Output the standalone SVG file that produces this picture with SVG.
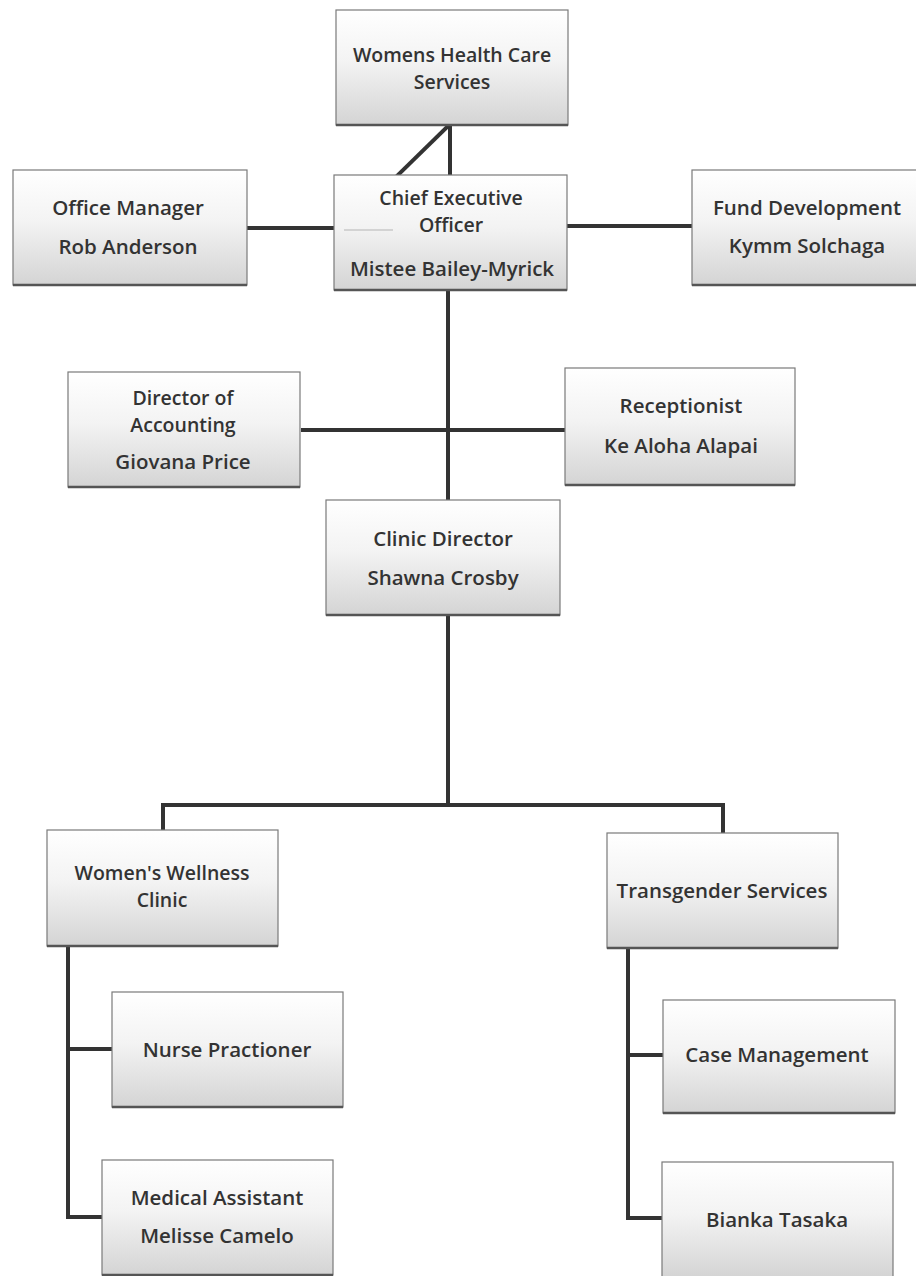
<svg xmlns="http://www.w3.org/2000/svg" width="916" height="1276" viewBox="0 0 916 1276">
<defs>
<linearGradient id="g" x1="0" y1="0" x2="0" y2="1">
<stop offset="0" stop-color="#ffffff"/>
<stop offset="0.45" stop-color="#f3f3f3"/>
<stop offset="1" stop-color="#d4d4d4"/>
</linearGradient>
</defs>
<style>
.box{fill:url(#g);stroke:#7a7a7a;stroke-width:1.2}
.sh{stroke:#555;stroke-width:2.5;fill:none}
.t{font-family:"Open Sans","Liberation Sans",sans-serif;font-size:20.5px;font-weight:600;fill:#333333;text-anchor:middle}
.t2{font-size:19.5px}
.c{stroke:#333;stroke-width:4;fill:none;stroke-linecap:square}
</style>
<rect width="916" height="1276" fill="#ffffff"/>
<g id="connectors">
<line class="c" x1="450" y1="126" x2="450" y2="175"/>
<line class="c" x1="447" y1="127" x2="398" y2="175"/>
<line class="c" x1="249" y1="228" x2="334" y2="228"/>
<line class="c" x1="567" y1="226" x2="691" y2="226"/>
<line class="c" x1="448" y1="290" x2="448" y2="500"/>
<line class="c" x1="303" y1="430" x2="564" y2="430"/>
<line class="c" x1="448" y1="615" x2="448" y2="805"/>
<line class="c" x1="163" y1="805" x2="723" y2="805"/>
<line class="c" x1="163" y1="805" x2="163" y2="830"/>
<line class="c" x1="723" y1="805" x2="723" y2="833"/>
<line class="c" x1="68" y1="946" x2="68" y2="1217"/>
<line class="c" x1="68" y1="1049" x2="111" y2="1049"/>
<line class="c" x1="68" y1="1217" x2="101" y2="1217"/>
<line class="c" x1="628" y1="948" x2="628" y2="1218"/>
<line class="c" x1="628" y1="1055" x2="662" y2="1055"/>
<line class="c" x1="628" y1="1218" x2="661" y2="1218"/>
</g>
<g id="n-whcs">
<rect class="box" x="336" y="10" width="232" height="115"/>
<line class="sh" x1="336" y1="125" x2="568" y2="125"/>
<text class="t t2" x="452" y="62">Womens Health Care</text>
<text class="t t2" x="452" y="89">Services</text>
</g>
<g id="n-ceo">
<rect class="box" x="334" y="175" width="233" height="115"/>
<line class="sh" x1="334" y1="290" x2="567" y2="290"/>
<line x1="344" y1="230" x2="393" y2="230" stroke="#c8c8c8" stroke-width="1.5"/>
<text class="t t2" x="451" y="205">Chief Executive</text>
<text class="t t2" x="451" y="232">Officer</text>
<text class="t" x="452" y="276">Mistee Bailey-Myrick</text>
</g>
<g id="n-office">
<rect class="box" x="13" y="170" width="234" height="115"/>
<line class="sh" x1="13" y1="285" x2="247" y2="285"/>
<text class="t" x="128" y="215">Office Manager</text>
<text class="t" x="128" y="254">Rob Anderson</text>
</g>
<g id="n-fund">
<rect class="box" x="692" y="170" width="230" height="115"/>
<line class="sh" x1="692" y1="285" x2="916" y2="285"/>
<text class="t" x="807" y="215">Fund Development</text>
<text class="t" x="807" y="253">Kymm Solchaga</text>
</g>
<g id="n-acct">
<rect class="box" x="68" y="372" width="232" height="115"/>
<line class="sh" x1="68" y1="487" x2="300" y2="487"/>
<text class="t t2" x="183" y="405">Director of</text>
<text class="t t2" x="183" y="432">Accounting</text>
<text class="t" x="183" y="469">Giovana Price</text>
</g>
<g id="n-recep">
<rect class="box" x="565" y="368" width="230" height="117"/>
<line class="sh" x1="565" y1="485" x2="795" y2="485"/>
<text class="t" x="681" y="413">Receptionist</text>
<text class="t" x="681" y="453">Ke Aloha Alapai</text>
</g>
<g id="n-clinic">
<rect class="box" x="326" y="500" width="234" height="115"/>
<line class="sh" x1="326" y1="615" x2="560" y2="615"/>
<text class="t" x="443" y="546">Clinic Director</text>
<text class="t" x="443" y="585">Shawna Crosby</text>
</g>
<g id="n-wwc">
<rect class="box" x="47" y="830" width="231" height="116"/>
<line class="sh" x1="47" y1="946" x2="278" y2="946"/>
<text class="t t2" x="162" y="880">Women's Wellness</text>
<text class="t t2" x="162" y="907">Clinic</text>
</g>
<g id="n-trans">
<rect class="box" x="607" y="833" width="231" height="115"/>
<line class="sh" x1="607" y1="948" x2="838" y2="948"/>
<text class="t" x="722" y="898">Transgender Services</text>
</g>
<g id="n-nurse">
<rect class="box" x="112" y="992" width="231" height="115"/>
<line class="sh" x1="112" y1="1107" x2="343" y2="1107"/>
<text class="t" x="227" y="1057">Nurse Practioner</text>
</g>
<g id="n-med">
<rect class="box" x="102" y="1160" width="231" height="115"/>
<line class="sh" x1="102" y1="1275" x2="333" y2="1275"/>
<text class="t" x="217" y="1205">Medical Assistant</text>
<text class="t" x="217" y="1243">Melisse Camelo</text>
</g>
<g id="n-case">
<rect class="box" x="663" y="1000" width="232" height="113"/>
<line class="sh" x1="663" y1="1113" x2="895" y2="1113"/>
<text class="t" x="777" y="1062">Case Management</text>
</g>
<g id="n-bianka">
<rect class="box" x="662" y="1162" width="231" height="116"/>
<text class="t" x="777" y="1227">Bianka Tasaka</text>
</g>
</svg>
